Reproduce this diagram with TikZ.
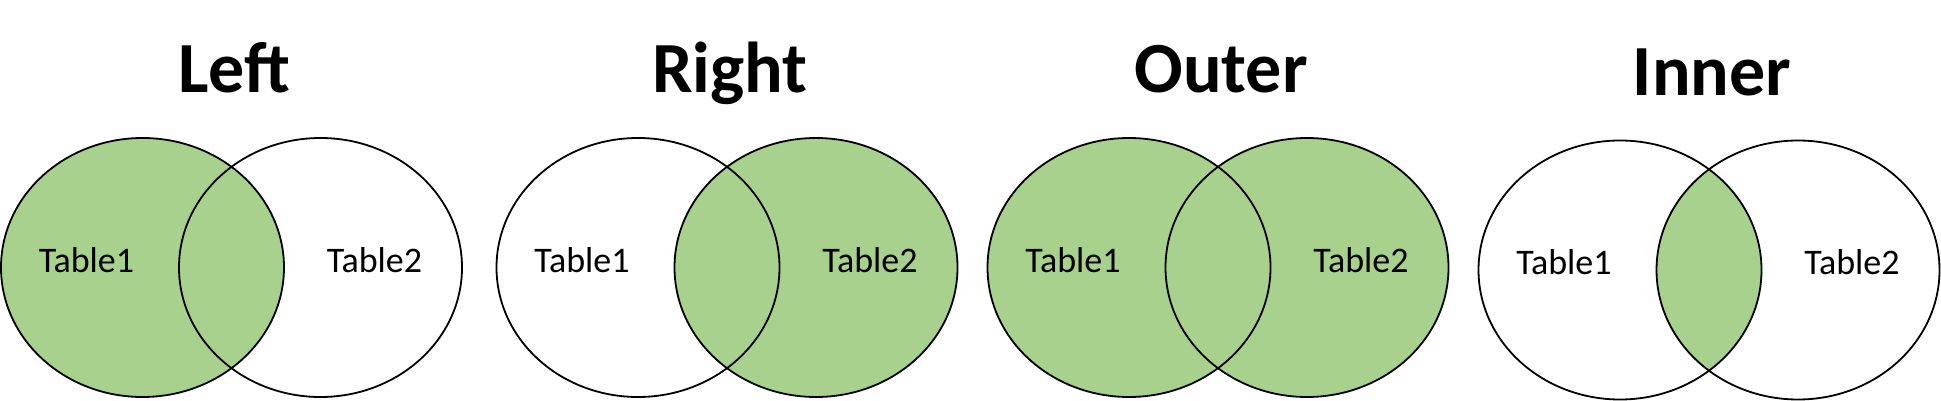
\documentclass[tikz,border=0pt]{standalone}
\usepackage{fontspec}
\setmainfont{Carlito}
\usetikzlibrary{positioning}
\definecolor{joingreen}{HTML}{A9D18E}
\tikzset{font=\fontsize{18}{20}\selectfont}
\tikzset{jointitle/.style={font=\fontsize{36}{40}\selectfont\bfseries, anchor=base, inner sep=0pt}}
\tikzset{tablename/.style={anchor=base, inner sep=0pt}}
\tikzset{setline/.style={draw=black, line width=0.9pt}}

\begin{document}
\begin{tikzpicture}[x=0.5pt,y=-0.5pt]
  \useasboundingbox (0,0) rectangle (1941,401);

  % shading first, outlines on top
  \fill[joingreen] (142.5,267.5) ellipse (141.5 and 129.5);   % left
  \fill[joingreen] (816,267.5) ellipse (141.5 and 129.5);     % right
  \fill[joingreen] (1129,267.5) ellipse (141.5 and 129.5);    % outer
  \fill[joingreen] (1307,267.5) ellipse (141.5 and 129.5);
  \begin{scope}                                               % inner
    \clip (1620,270) ellipse (141.5 and 129.5);
    \fill[joingreen] (1798,270) ellipse (141.5 and 129.5);
  \end{scope}

  \foreach \cx/\cy/\name in {142.5/267.5/Left, 638/267.5/Right, 1129/267.5/Outer, 1620/270/Inner}{
    \draw[setline] (\cx,\cy) ellipse (141.5 and 129.5);
    \draw[setline] (\cx+178,\cy) ellipse (141.5 and 129.5);
    \node[tablename] (one-\name) at (\cx-56,\cy+4.5) {Table1};
    \node[tablename] (two-\name) at (\cx+178+54,\cy+4.5) {Table2};
    \node[jointitle] (title-\name) at (\cx+92,\cy-174.5) {\name};
  }
\end{tikzpicture}
\end{document}
